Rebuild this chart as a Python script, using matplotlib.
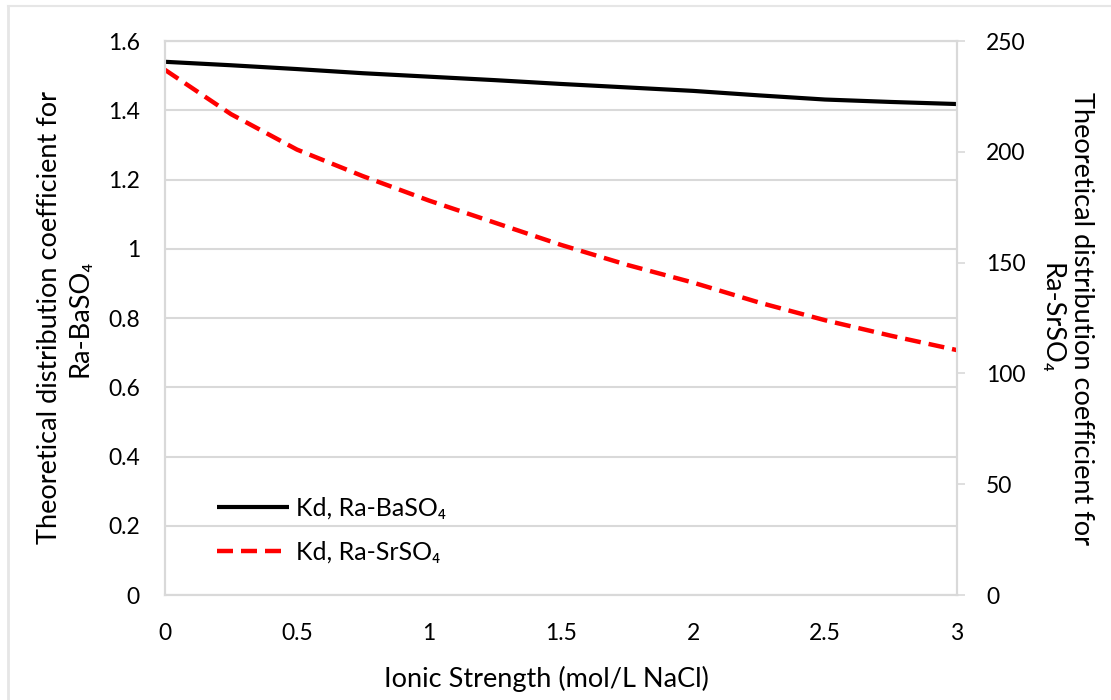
import matplotlib
matplotlib.use('Agg')
import matplotlib.pyplot as plt
from matplotlib.lines import Line2D

plt.rcParams['font.family'] = ['Lato', 'DejaVu Sans']

# ionic strength (mol/L NaCl)
ionic = [0, 0.25, 0.5, 0.75, 1.0, 1.25, 1.5, 1.75, 2.0, 2.25, 2.5, 2.75, 3.0]
# Kd Ra-BaSO4 (left axis)
kd_ba = [1.540, 1.530, 1.519, 1.507, 1.497, 1.487, 1.476, 1.466, 1.456, 1.443, 1.431, 1.424, 1.418]
# Kd Ra-SrSO4 (right axis)
kd_sr = [237, 217, 201, 189, 178, 168, 158, 149, 141, 132, 124, 117, 110.5]

grid_col = '#d9d9d9'

fig = plt.figure(figsize=(11.11, 7.0), dpi=100)
ax = fig.add_axes([0.1485, 0.15, 0.7129, 0.7914])
ax2 = ax.twinx()

l1, = ax.plot(ionic, kd_ba, color='black', lw=3, solid_capstyle='butt')
l2, = ax2.plot(ionic, kd_sr, color='#ff0000', lw=3.2, ls=(0, (3.6, 1.8)))

ax.set_xlim(0, 3)
ax.set_ylim(0, 1.6)
ax2.set_ylim(0, 250)
ax.set_xticks([0, 0.5, 1, 1.5, 2, 2.5, 3])
ax.set_xticklabels(['0', '0.5', '1', '1.5', '2', '2.5', '3'])
ax.set_yticks([0, 0.2, 0.4, 0.6, 0.8, 1.0, 1.2, 1.4, 1.6])
ax.set_yticklabels(['0', '0.2', '0.4', '0.6', '0.8', '1', '1.2', '1.4', '1.6'])
ax2.set_yticks([0, 50, 100, 150, 200, 250])

ax.grid(axis='y', color=grid_col, lw=1.5)
ax.set_axisbelow(True)
ax.tick_params(axis='y', length=0, labelsize=16.5, pad=18)
ax.tick_params(axis='x', length=0, labelsize=16.5, pad=20)
ax2.tick_params(axis='y', length=6, width=1.2, color=grid_col, labelsize=16.5, pad=15)

for a in (ax, ax2):
    for s in a.spines.values():
        s.set_color(grid_col)
        s.set_linewidth(1.5)

ax.set_xlabel('Ionic Strength (mol/L NaCl)', fontsize=19.5, va='center')
ax.xaxis.set_label_coords(0.481, -0.152)

# axis titles placed in figure pixels
fig.text(65 / 1111, 1 - 318 / 700,
         'Theoretical distribution coefficient for\nRa-BaSO\u2084',
         fontsize=19.5, rotation=90, ha='center', va='center', linespacing=1.25)
fig.text(1066 / 1111, 1 - 318 / 700,
         'Theoretical distribution coefficient for\nRa-SrSO\u2084',
         fontsize=19.5, rotation=270, ha='center', va='center', linespacing=1.25)

ax.legend([l1, l2], ['Kd, Ra-BaSO\u2084', 'Kd, Ra-SrSO\u2084'], loc='lower left',
          bbox_to_anchor=(0.037, 0.016), frameon=False, fontsize=18, handlelength=2.9,
          handletextpad=0.25, labelspacing=0.85)

# faint outer frame
fig.add_artist(Line2D([8 / 1111, 1.0], [1 - 6 / 700, 1 - 6 / 700], color='#e6e6e6', lw=1.5))
fig.add_artist(Line2D([8 / 1111, 8 / 1111], [0, 1 - 6 / 700], color='#e6e6e6', lw=2))

fig.savefig('out.png', dpi=100)
